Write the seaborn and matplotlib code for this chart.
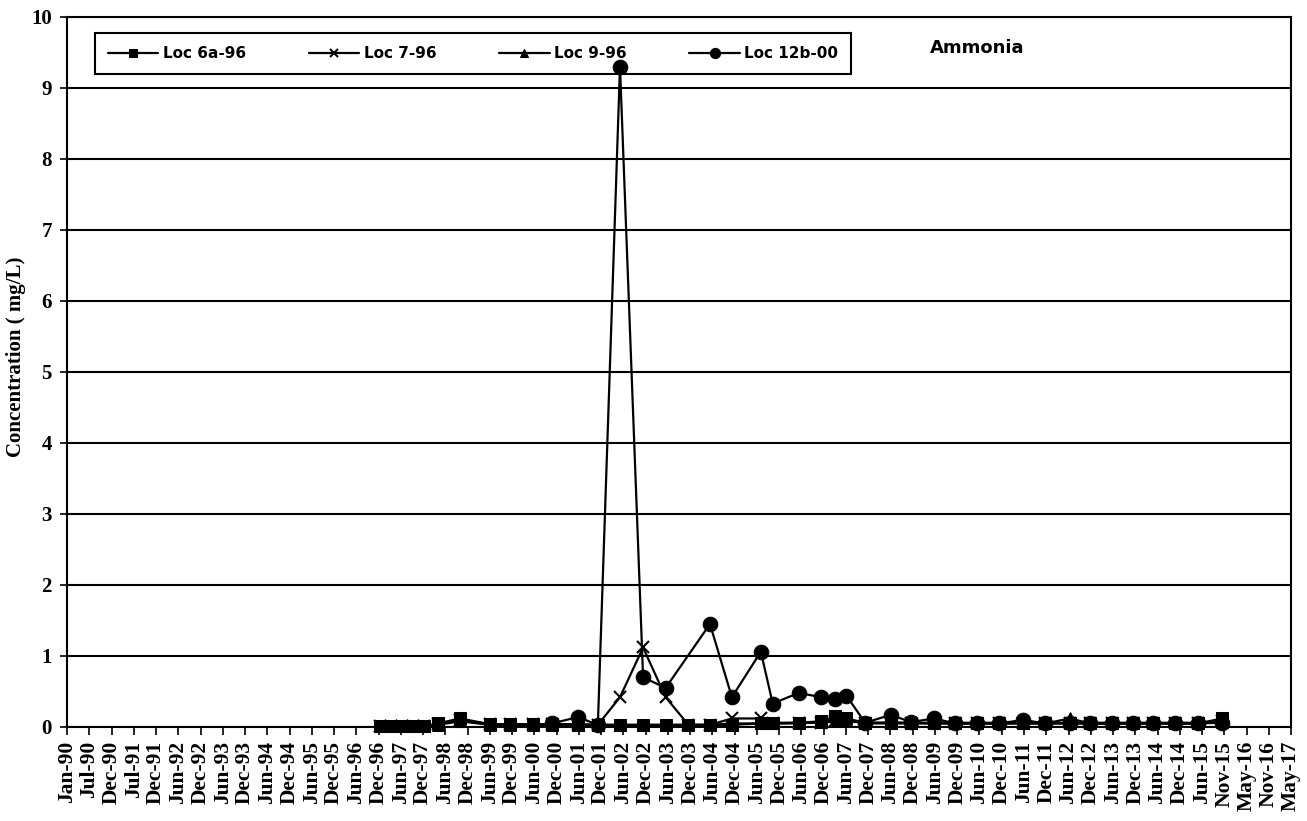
import numpy as np
import pandas as pd
import matplotlib
matplotlib.use("Agg")
import matplotlib.pyplot as plt
import seaborn as sns

# ---------------- data ----------------
dates_main = ["1996-12-31", "1997-04-01", "1997-07-01", "1997-10-01", "1997-12-28",
              "1998-04-20", "1998-10-20", "1999-06-20", "1999-12-01", "2000-06-05",
              "2000-11-10", "2001-06-10", "2001-11-20", "2002-05-20", "2002-11-25",
              "2003-05-28", "2003-12-01", "2004-05-25", "2004-11-20", "2005-07-15",
              "2005-10-20", "2006-05-20", "2006-11-20", "2007-03-15", "2007-06-15",
              "2007-11-15", "2008-06-10", "2008-11-25", "2009-06-01", "2009-11-20",
              "2010-05-20", "2010-11-15", "2011-05-30", "2011-11-25", "2012-06-15",
              "2012-11-28", "2013-05-25", "2013-11-15", "2014-04-28", "2014-10-25",
              "2015-04-25", "2015-11-15"]

loc6a = [0.01, 0.01, 0.01, 0.01, 0.01, 0.05, 0.12, 0.04, 0.04, 0.04,
         0.04, 0.03, 0.03, 0.03, 0.03, 0.03, 0.03, 0.03, 0.03, 0.05,
         0.05, 0.06, 0.08, 0.15, 0.12, 0.06, 0.06, 0.06, 0.05, 0.05,
         0.05, 0.05, 0.05, 0.05, 0.05, 0.05, 0.05, 0.05, 0.05, 0.05,
         0.05, 0.12]

loc7 = [0.01, 0.01, 0.01, 0.01, 0.01, 0.04, 0.10, 0.04, 0.04, 0.04,
        0.04, 0.04, 0.03, 0.42, 1.12, 0.42, 0.03, 0.03, 0.12, 0.12,
        0.06, 0.06, 0.06, 0.08, 0.08, 0.06, 0.06, 0.06, 0.06, 0.06,
        0.06, 0.06, 0.06, 0.06, 0.06, 0.06, 0.06, 0.06, 0.06, 0.06,
        0.06, 0.08]

loc9 = [0.01, 0.01, 0.01, 0.01, 0.01, 0.03, 0.08, 0.03, 0.03, 0.03,
        0.03, 0.03, 0.03, 0.03, 0.03, 0.03, 0.03, 0.03, 0.05, 0.05,
        0.05, 0.05, 0.07, 0.10, 0.10, 0.05, 0.05, 0.05, 0.05, 0.05,
        0.05, 0.05, 0.05, 0.05, 0.12, 0.05, 0.05, 0.05, 0.05, 0.05,
        0.05, 0.07]

dates_12b = ["2000-11-10", "2001-06-10", "2001-11-20", "2002-05-20", "2002-11-25",
             "2003-05-28", "2004-05-25", "2004-11-20", "2005-07-15", "2005-10-20",
             "2006-05-20", "2006-11-20", "2007-03-15", "2007-06-15", "2007-11-15",
             "2008-06-10", "2008-11-25", "2009-06-01", "2009-11-20", "2010-05-20",
             "2010-11-15", "2011-05-30", "2011-11-25", "2012-06-15", "2012-11-28",
             "2013-05-25", "2013-11-15", "2014-04-28", "2014-10-25", "2015-04-25",
             "2015-11-15"]

loc12b = [0.05, 0.14, 0.03, 9.30, 0.70, 0.55, 1.45, 0.42, 1.06, 0.33,
          0.48, 0.42, 0.39, 0.44, 0.06, 0.17, 0.07, 0.12, 0.05, 0.05,
          0.05, 0.10, 0.05, 0.05, 0.05, 0.05, 0.05, 0.05, 0.05, 0.05,
          0.06]

series_names = ["Loc 6a-96", "Loc 7-96", "Loc 9-96", "Loc 12b-00"]

x_tick_labels = ["Jan-90", "Jul-90", "Dec-90", "Jul-91", "Dec-91", "Jun-92", "Dec-92",
                 "Jun-93", "Dec-93", "Jun-94", "Dec-94", "Jun-95", "Dec-95", "Jun-96",
                 "Dec-96", "Jun-97", "Dec-97", "Jun-98", "Dec-98", "Jun-99", "Dec-99",
                 "Jun-00", "Dec-00", "Jun-01", "Dec-01", "Jun-02", "Dec-02", "Jun-03",
                 "Dec-03", "Jun-04", "Dec-04", "Jun-05", "Dec-05", "Jun-06", "Dec-06",
                 "Jun-07", "Dec-07", "Jun-08", "Dec-08", "Jun-09", "Dec-09", "Jun-10",
                 "Dec-10", "Jun-11", "Dec-11", "Jun-12", "Dec-12", "Jun-13", "Dec-13",
                 "Jun-14", "Dec-14", "Jun-15", "Nov-15", "May-16", "Nov-16", "May-17"]
y_ticks = [0, 1, 2, 3, 4, 5, 6, 7, 8, 9, 10]

axis_start = "1990-01-01"
tick_step_days = 182

# ---------------- build frame ----------------
frames = []
for name, d, v in [(series_names[0], dates_main, loc6a),
                   (series_names[1], dates_main, loc7),
                   (series_names[2], dates_main, loc9),
                   (series_names[3], dates_12b, loc12b)]:
    frames.append(pd.DataFrame({"date": pd.to_datetime(d), "value": v, "series": name}))
df = pd.concat(frames, ignore_index=True)

# ---------------- plot ----------------
sns.set_theme(style="white")
plt.rcParams["font.family"] = ["Liberation Serif", "DejaVu Serif"]
plt.rcParams.update({"text.color": "black", "axes.labelcolor": "black",
                     "xtick.color": "black", "ytick.color": "black"})

fig = plt.figure(figsize=(13.07, 8.21), dpi=100)
ax = fig.add_axes([0.0513, 0.1145, 0.9365, 0.8648])

styles = {
    series_names[0]: dict(marker="s", markersize=9),
    series_names[1]: dict(marker="x", markersize=9, markeredgewidth=1.5),
    series_names[2]: dict(marker="^", markersize=8),
    series_names[3]: dict(marker="o", markersize=10.5),
}
for name in series_names:
    sub = df[df["series"] == name]
    sns.lineplot(data=sub, x="date", y="value", ax=ax, color="black", linewidth=1.6,
                 sort=False, estimator=None, label=name, zorder=5, clip_on=False,
                 markeredgecolor="black", markerfacecolor="black", **styles[name])

start = pd.Timestamp(axis_start)
tick_pos = [start + pd.Timedelta(days=tick_step_days * i) for i in range(len(x_tick_labels))]
ax.set_xlim(tick_pos[0], tick_pos[-1])
ax.set_xticks(tick_pos)
ax.set_xticklabels(x_tick_labels, rotation=90, fontsize=15.5, fontweight="bold")

ax.set_ylim(0, 10)
ax.set_yticks(y_ticks)
ax.set_yticklabels([str(t) for t in y_ticks], fontsize=15, fontweight="bold")

ax.yaxis.grid(True, color="black", linewidth=1.5)
ax.xaxis.grid(False)
ax.set_axisbelow(True)
for s in ax.spines.values():
    s.set_color("black")
    s.set_linewidth(1.5)

ax.tick_params(axis="x", direction="out", length=6, width=1.2, colors="black", bottom=True, pad=4)
ax.tick_params(axis="y", direction="out", length=5, width=1.2, colors="black", left=True, pad=6)

ax.set_xlabel("")
ax.set_ylabel("Concentration ( mg/L)", fontsize=15, fontweight="bold", color="black")
ax.yaxis.set_label_coords(-0.0335, 0.521)

leg = ax.legend(loc="upper left", bbox_to_anchor=(0.0229, 0.9775), ncol=4,
                frameon=True, fancybox=False, edgecolor="black", framealpha=1,
                handlelength=3.3, handletextpad=0.3, columnspacing=4.1,
                borderpad=0.85, markerscale=0.7, borderaxespad=0,
                prop={"family": "DejaVu Sans", "weight": "bold", "size": 11})
leg.get_frame().set_linewidth(1.5)
leg.set_zorder(2)
for t in leg.get_texts():
    t.set_color("black")

ax.text(0.705, 0.956, "Ammonia", transform=ax.transAxes, ha="left", va="center",
        fontsize=13, fontweight="bold", family="DejaVu Sans", color="black")

fig.savefig("out.png", dpi=100)
